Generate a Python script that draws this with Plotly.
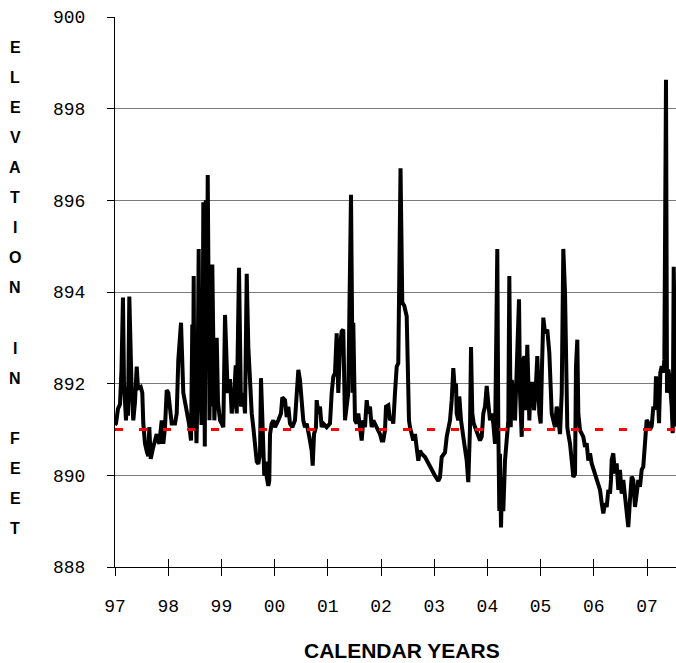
import plotly.graph_objects as go

# ---- data (years since 1997, elevation in feet) ----
year_offset = [
    0.000, 0.019, 0.056, 0.094, 0.122, 0.150, 0.169, 0.188, 0.207, 0.226,
    0.244, 0.269, 0.295, 0.314, 0.344, 0.376, 0.408, 0.432, 0.483, 0.513,
    0.532, 0.564, 0.602, 0.626, 0.645, 0.671, 0.720, 0.752, 0.784, 0.808,
    0.833, 0.878, 0.908, 0.940, 0.972, 1.002, 1.034, 1.066, 1.128, 1.160,
    1.190, 1.241, 1.284, 1.316, 1.348, 1.391, 1.429, 1.453, 1.466, 1.479,
    1.494, 1.513, 1.532, 1.551, 1.573, 1.592, 1.607, 1.626, 1.645, 1.660,
    1.677, 1.688, 1.707, 1.726, 1.743, 1.761, 1.776, 1.795, 1.810, 1.829,
    1.848, 1.867, 1.889, 1.912, 1.936, 1.974, 2.006, 2.036, 2.068, 2.092,
    2.118, 2.162, 2.194, 2.243, 2.269, 2.288, 2.331, 2.368, 2.412, 2.444,
    2.476, 2.506, 2.538, 2.570, 2.600, 2.632, 2.664, 2.694, 2.726, 2.744,
    2.769, 2.788, 2.806, 2.833, 2.852, 2.882, 2.900, 2.914, 2.945, 2.976,
    3.008, 3.070, 3.120, 3.145, 3.196, 3.227, 3.258, 3.289, 3.333, 3.383,
    3.446, 3.477, 3.509, 3.539, 3.571, 3.603, 3.652, 3.697, 3.716, 3.741,
    3.778, 3.791, 3.822, 3.853, 3.885, 3.915, 3.979, 4.041, 4.073, 4.103,
    4.135, 4.167, 4.197, 4.229, 4.261, 4.291, 4.323, 4.355, 4.385, 4.436,
    4.468, 4.479, 4.511, 4.543, 4.573, 4.605, 4.637, 4.667, 4.699, 4.731,
    4.761, 4.793, 4.825, 4.855, 4.919, 4.981, 5.013, 5.043, 5.075, 5.094,
    5.137, 5.169, 5.201, 5.231, 5.263, 5.295, 5.325, 5.367, 5.400, 5.438,
    5.483, 5.502, 5.526, 5.545, 5.577, 5.607, 5.639, 5.671, 5.701, 5.733,
    5.765, 5.827, 5.889, 5.953, 6.015, 6.077, 6.109, 6.141, 6.171, 6.203,
    6.235, 6.265, 6.297, 6.329, 6.359, 6.391, 6.410, 6.423, 6.453, 6.472,
    6.504, 6.547, 6.579, 6.611, 6.641, 6.673, 6.692, 6.716, 6.743, 6.767,
    6.829, 6.861, 6.893, 6.923, 6.955, 6.987, 7.017, 7.049, 7.081, 7.111,
    7.143, 7.186, 7.205, 7.224, 7.237, 7.256, 7.275, 7.299, 7.331, 7.363,
    7.393, 7.412, 7.438, 7.457, 7.487, 7.519, 7.551, 7.594, 7.613, 7.645,
    7.675, 7.694, 7.720, 7.750, 7.788, 7.814, 7.852, 7.876, 7.908, 7.938,
    7.976, 8.002, 8.026, 8.051, 8.083, 8.126, 8.164, 8.190, 8.209, 8.239,
    8.271, 8.303, 8.333, 8.365, 8.397, 8.427, 8.459, 8.477, 8.502, 8.521,
    8.553, 8.585, 8.615, 8.647, 8.665, 8.690, 8.709, 8.741, 8.803, 8.835,
    8.866, 8.897, 8.929, 8.960, 9.023, 9.085, 9.117, 9.149, 9.179, 9.211,
    9.242, 9.273, 9.305, 9.323, 9.336, 9.366, 9.398, 9.430, 9.461, 9.492,
    9.524, 9.554, 9.586, 9.618, 9.648, 9.680, 9.712, 9.742, 9.774, 9.806,
    9.836, 9.868, 9.900, 9.930, 9.962, 9.994, 10.024, 10.056, 10.088, 10.119,
    10.150, 10.169, 10.201, 10.226, 10.250, 10.277, 10.307, 10.326, 10.357, 10.376,
    10.401, 10.427, 10.464, 10.483, 10.502, 10.526, 10.545, 10.583,
]
elevation_ft = [
    891.10, 891.13, 891.45, 891.55, 892.30, 893.88, 892.00, 891.50, 891.20, 891.90,
    891.30, 893.90, 892.52, 891.80, 891.20, 891.60, 892.37, 891.90, 891.93, 891.80,
    891.13, 890.69, 890.50, 890.42, 891.05, 890.36, 890.62, 890.80, 890.90, 890.75,
    890.69, 891.20, 890.69, 891.05, 891.86, 891.80, 891.35, 891.13, 891.13, 891.35,
    892.52, 893.33, 891.80, 891.60, 891.50, 891.13, 890.76, 893.29, 891.20, 894.35,
    891.00, 891.60, 890.70, 891.80, 894.94, 891.50, 892.00, 891.10, 891.60, 895.96,
    892.00, 890.63, 896.00, 892.50, 896.55, 892.20, 891.20, 893.00, 891.50, 894.60,
    892.00, 891.20, 891.80, 893.00, 891.60, 891.20, 891.13, 891.05, 893.50, 892.30,
    891.80, 892.10, 891.35, 891.80, 892.40, 891.35, 894.53, 891.50, 891.80, 891.35,
    894.40, 892.80, 891.80, 891.35, 891.05, 890.76, 890.30, 890.25, 890.47, 892.12,
    891.05, 890.30, 889.99, 890.30, 889.96, 889.77, 889.88, 890.90, 891.13, 891.20,
    891.05, 891.20, 891.35, 891.70, 891.64, 891.27, 891.50, 891.13, 891.05, 891.20,
    892.30, 892.08, 891.50, 891.20, 891.05, 891.13, 890.84, 890.54, 890.21, 890.90,
    891.05, 891.64, 891.35, 891.50, 891.05, 891.13, 891.05, 891.13, 891.80, 892.15,
    892.23, 893.10, 891.80, 892.80, 893.14, 893.18, 891.20, 891.64, 891.80, 896.12,
    891.80, 893.33, 891.20, 891.13, 891.35, 891.05, 890.76, 891.20, 891.05, 891.64,
    891.35, 891.50, 891.05, 891.20, 891.05, 890.90, 890.76, 890.76, 890.98, 891.50,
    891.53, 891.20, 891.27, 891.13, 891.80, 892.37, 892.45, 896.70, 893.77, 893.70,
    893.47, 891.80, 891.20, 891.05, 890.90, 890.76, 890.90, 890.60, 890.32, 890.54,
    890.47, 890.40, 890.25, 890.14, 889.99, 889.88, 889.96, 890.40, 890.47, 890.50,
    890.84, 891.05, 891.20, 891.64, 892.34, 891.80, 892.00, 891.35, 891.20, 891.72,
    891.20, 890.84, 890.62, 890.32, 889.85, 891.05, 892.80, 891.35, 891.13, 891.05,
    890.90, 890.76, 890.84, 891.35, 891.50, 891.95, 891.57, 891.20, 891.35, 891.13,
    890.69, 894.94, 891.05, 889.22, 890.47, 888.86, 889.96, 889.22, 890.32, 890.84,
    891.20, 894.35, 891.05, 892.08, 891.80, 891.20, 892.15, 893.84, 891.80, 890.84,
    892.52, 892.60, 891.42, 892.85, 891.20, 892.00, 892.00, 891.42, 891.86, 892.60,
    891.35, 891.13, 892.37, 893.44, 893.10, 893.18, 892.67, 891.50, 891.35, 891.20,
    891.05, 891.50, 891.20, 890.90, 891.80, 894.94, 893.99, 892.52, 891.05, 890.90,
    890.69, 890.32, 889.96, 890.03, 892.37, 892.96, 891.35, 890.98, 890.84, 890.62,
    890.70, 890.32, 890.48, 890.26, 890.04, 889.82, 889.68, 889.39, 889.17, 889.39,
    889.31, 889.68, 889.60, 889.90, 890.34, 890.48, 890.04, 890.26, 889.68, 890.12,
    889.60, 889.90, 889.53, 889.24, 888.87, 889.46, 889.97, 889.90, 889.31, 889.60,
    889.90, 889.75, 890.12, 890.19, 890.63, 891.21, 891.14, 891.00, 891.07, 891.50,
    891.43, 892.16, 891.80, 891.14, 892.24, 892.38, 892.24, 892.53, 898.63, 891.80,
    892.31, 892.09, 891.50, 890.92, 894.55, 891.80, 891.07, 891.20,
]
base_year = 1997
years = [base_year + t for t in year_offset]

reference_level = 891.0
tick_years = list(range(1997, 2008))
tick_labels = ["97", "98", "99", "00", "01", "02", "03", "04", "05", "06", "07"]
y_ticks = [888, 890, 892, 894, 896, 898, 900]
y_title_letters = list("ELEVATION") + [""] + list("IN") + [""] + list("FEET")
x_title = "CALENDAR YEARS"

x_range = [1997.0, 2007.545]

fig = go.Figure()
fig.add_trace(go.Scatter(
    x=years, y=elevation_ft, mode="lines",
    line=dict(color="black", width=4), hoverinfo="skip",
))
fig.add_trace(go.Scatter(
    x=x_range, y=[reference_level, reference_level], mode="lines",
    line=dict(color="#ff0000", width=3, dash="8px,16px"), hoverinfo="skip",
))
# helper trace for the inner half of the crossing x ticks
fig.add_trace(go.Scatter(x=x_range, y=[None, None], xaxis="x2", yaxis="y",
                         mode="lines", hoverinfo="skip"))

mono = "Liberation Mono, Courier New, monospace"
fig.update_layout(
    width=676, height=663,
    margin=dict(l=115, r=0, t=17, b=96),
    paper_bgcolor="white", plot_bgcolor="white",
    showlegend=False,
    xaxis=dict(
        range=x_range, tickvals=tick_years, ticktext=tick_labels,
        showgrid=False, zeroline=False,
        showline=True, linecolor="black", linewidth=1,
        ticks="outside", ticklen=8, tickwidth=1, tickcolor="black",
        tickfont=dict(family=mono, size=18, color="black"),
        ticklabelstandoff=14,
    ),
    xaxis2=dict(
        range=x_range, tickvals=tick_years, showticklabels=False,
        overlaying="x", anchor="y", side="bottom",
        showgrid=False, zeroline=False, showline=False,
        ticks="inside", ticklen=8, tickwidth=1, tickcolor="black",
    ),
    yaxis=dict(
        range=[888, 900], tickvals=y_ticks,
        showgrid=True, gridcolor="#7a7a7a", gridwidth=1.2,
        zeroline=False,
        showline=True, linecolor="black", linewidth=1,
        ticks="outside", ticklen=7, tickwidth=1, tickcolor="black",
        tickfont=dict(family=mono, size=18, color="black"),
        ticklabelstandoff=18,
    ),
)

# vertical stacked y-axis title
for i, ch in enumerate(y_title_letters):
    if not ch:
        continue
    py = 47 + i * 30.1
    fig.add_annotation(
        text="<b>" + ch + "</b>", xref="paper", yref="paper",
        x=(15 - 115) / 561, y=(567 - py) / 550,
        xanchor="center", yanchor="middle", showarrow=False,
        font=dict(family="Liberation Sans, Arial", size=16, color="black"),
    )

fig.add_annotation(
    text="<b>" + x_title + "</b>", xref="paper", yref="paper",
    x=(402 - 115) / 561, y=(567 - 650) / 550,
    xanchor="center", yanchor="middle", showarrow=False,
    font=dict(family="Liberation Sans, Arial", size=21, color="black"),
)

fig.write_html("out.html")
